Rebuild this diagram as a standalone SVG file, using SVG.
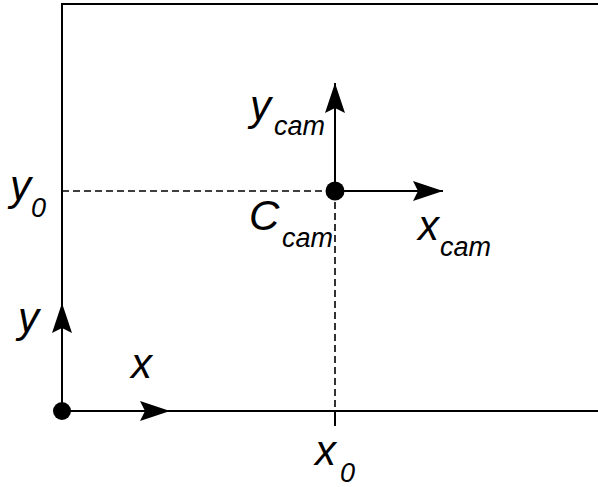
<svg xmlns="http://www.w3.org/2000/svg" width="598" height="487" viewBox="0 0 598 487">
<style>
.ln{stroke:#000;stroke-width:2;fill:none}
.ds{stroke:#000;stroke-width:1.6;fill:none;stroke-dasharray:7,4}
.t{font-family:"Liberation Sans",Arial,sans-serif;font-style:italic;fill:#000}
.m{font-size:42px}
.s{font-size:27px}
</style>
<defs>
<marker id="ah" viewBox="0 0 30 20" refX="30" refY="10" markerWidth="30" markerHeight="20" markerUnits="userSpaceOnUse" orient="auto">
<path d="M0,0 L30,10 L0,20 L5,10 Z" fill="#000"/>
</marker>
</defs>
<rect width="598" height="487" fill="#fff"/>
<g id="frame">
<path class="ln" d="M598,4 H62 V411 H598"/>
</g>
<g id="connectors">
<path class="ds" d="M62,191 H335"/>
<path class="ds" d="M335,191 V411"/>
<path class="ln" d="M335,411 V426"/>
<path class="ln" d="M62,411 H170" marker-end="url(#ah)"/>
<path class="ln" d="M62,411 V303" marker-end="url(#ah)"/>
<path class="ln" d="M335,191 V83" marker-end="url(#ah)"/>
<path class="ln" d="M335,191 H443" marker-end="url(#ah)"/>
</g>
<g id="origin"><circle cx="62" cy="411" r="9" fill="#000"/></g>
<g id="camera"><circle cx="335" cy="191" r="9.5" fill="#000"/></g>
<g id="labels">
<text class="t m" x="10" y="200">y</text>
<text class="t s" x="31" y="217">0</text>
<text class="t m" x="18" y="332">y</text>
<text class="t m" x="131" y="378">x</text>
<text class="t m" x="315" y="465">x</text>
<text class="t s" x="340" y="482">0</text>
<text class="t m" x="250" y="120">y</text>
<text class="t s" x="274" y="135">cam</text>
<text class="t m" x="249" y="230">C</text>
<text class="t s" x="282" y="247">cam</text>
<text class="t m" x="418" y="240">x</text>
<text class="t s" x="440" y="256">cam</text>
</g>
</svg>
